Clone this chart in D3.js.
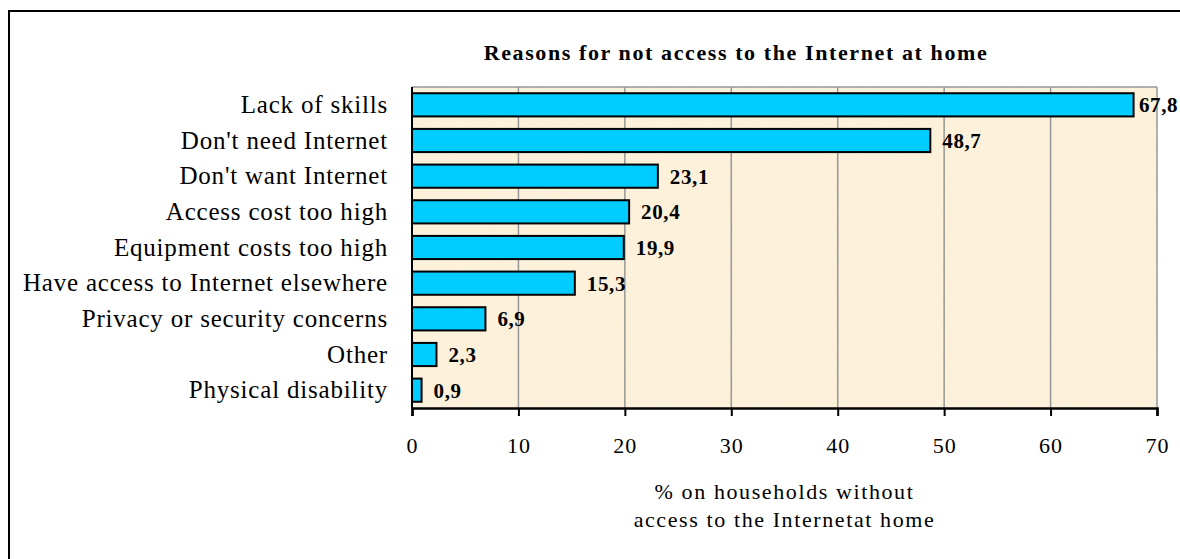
<!DOCTYPE html>
<html>
<head>
<meta charset="utf-8">
<script src="https://cdn.jsdelivr.net/npm/d3@7"></script>
<style>
  html, body { margin: 0; padding: 0; background: #ffffff; }
  svg { display: block; }
  text { font-family: "Liberation Serif", "Times New Roman", serif; fill: #000; }
</style>
</head>
<body>
<svg id="chart" width="1180" height="559"></svg>
<script>
// Reasons for not having Internet access at home (% of households without access)
const categories = [
  "Lack of skills",
  "Don't need Internet",
  "Don't want Internet",
  "Access cost too high",
  "Equipment costs too high",
  "Have access to Internet elsewhere",
  "Privacy or security concerns",
  "Other",
  "Physical disability"
];
const values = [67.8, 48.7, 23.1, 20.4, 19.9, 15.3, 6.9, 2.3, 0.9];
const xTicks = [0, 10, 20, 30, 40, 50, 60, 70];
const titleText = "Reasons for not access to the Internet at home";
const axisTitle = ["% on households without", "access to the Internetat home"];

const W = 1180, H = 559;
const plot = { left: 412, right: 1157, top: 87, bottom: 408 };
const serif = '"Liberation Serif", "Times New Roman", serif';

const svg = d3.select("#chart");

// Parchment texture for the plot background
const defs = svg.append("defs");
const f = defs.append("filter").attr("id", "parchment")
  .attr("x", 0).attr("y", 0).attr("width", 1).attr("height", 1);
f.append("feTurbulence").attr("type", "fractalNoise")
  .attr("baseFrequency", "0.04").attr("numOctaves", 3).attr("seed", 7).attr("result", "noise");
f.append("feColorMatrix").attr("in", "noise").attr("type", "matrix")
  .attr("values", "0 0 0 0 0.95  0 0 0 0 0.88  0 0 0 0 0.72  0 0 0 0.14 0")
  .attr("result", "tint");
f.append("feComposite").attr("in", "tint").attr("in2", "SourceGraphic").attr("operator", "in").attr("result", "t2");
f.append("feMerge").selectAll("feMergeNode").data(["SourceGraphic", "t2"]).join("feMergeNode").attr("in", d => d);

// Outer frame
svg.append("rect")
  .attr("x", 9).attr("y", 11).attr("width", 1220).attr("height", 600)
  .attr("fill", "#fff").attr("stroke", "#000").attr("stroke-width", 2);

const x = d3.scaleLinear().domain([0, 70]).range([plot.left, plot.right]);
const y = d3.scaleBand().domain(categories).range([plot.top, plot.bottom])
  .paddingInner(0.35).paddingOuter(0.175);

// Plot background
svg.append("rect")
  .attr("x", plot.left).attr("y", plot.top)
  .attr("width", plot.right - plot.left).attr("height", plot.bottom - plot.top)
  .attr("fill", "#fdf1da").attr("filter", "url(#parchment)");

// Vertical gridlines
svg.append("g").selectAll("line")
  .data(xTicks.filter(d => d > 0))
  .join("line")
  .attr("x1", d => x(d)).attr("x2", d => x(d))
  .attr("y1", plot.top).attr("y2", plot.bottom)
  .attr("stroke", "#979797").attr("stroke-width", 1.5);

// Top border of plot area
svg.append("line")
  .attr("x1", plot.left).attr("x2", plot.right)
  .attr("y1", plot.top).attr("y2", plot.top)
  .attr("stroke", "#979797").attr("stroke-width", 1.5);

// Bars
svg.append("g").selectAll("rect")
  .data(categories)
  .join("rect")
  .attr("x", x(0))
  .attr("y", d => y(d))
  .attr("width", (d, i) => x(values[i]) - x(0))
  .attr("height", y.bandwidth())
  .attr("fill", "#00ccff")
  .attr("stroke", "#000").attr("stroke-width", 2);

// Value labels
svg.append("g").selectAll("text")
  .data(categories)
  .join("text")
  .attr("x", (d, i) => Math.min(x(values[i]) + 12, W - 41))
  .attr("y", d => y(d) + y.bandwidth() / 2)
  .attr("dy", "0.35em")
  .style("font-size", "21px").style("font-weight", "bold").style("letter-spacing", "0.6px")
  .text((d, i) => d3.format(".1f")(values[i]).replace(".", ","));

// Category axis (left)
const yAxis = d3.axisLeft(y).tickSize(0).tickPadding(24);
const gy = svg.append("g").attr("transform", `translate(${plot.left},0)`).call(yAxis);
gy.select(".domain").remove();
gy.selectAll("text")
  .style("font-family", serif)
  .style("font-size", "25px").style("letter-spacing", "0.8px").attr("fill", "#000");
svg.append("line")
  .attr("x1", plot.left).attr("x2", plot.left)
  .attr("y1", plot.top).attr("y2", plot.bottom)
  .attr("stroke", "#000").attr("stroke-width", 2);

// Value axis (bottom)
const xAxis = d3.axisBottom(x).tickValues(xTicks).tickSize(8).tickPadding(0).tickFormat(d3.format("d"));
const gx = svg.append("g").attr("transform", `translate(0,${plot.bottom})`).call(xAxis);
gx.select(".domain").attr("stroke", "#000").attr("stroke-width", 2.5);
gx.selectAll(".tick line").attr("stroke", "#000").attr("stroke-width", 2);
gx.selectAll(".tick text")
  .attr("y", 45).attr("dy", 0)
  .style("font-family", serif)
  .style("font-size", "22px").style("letter-spacing", "1px").attr("fill", "#000");

// Axis title
svg.append("g").selectAll("text")
  .data(axisTitle)
  .join("text")
  .attr("x", (plot.left + plot.right) / 2)
  .attr("y", (d, i) => 499 + i * 28)
  .attr("text-anchor", "middle")
  .style("font-size", "22px").style("letter-spacing", "1.6px")
  .text(d => d);

// Chart title
svg.append("text")
  .attr("x", 736).attr("y", 60)
  .attr("text-anchor", "middle")
  .style("font-size", "22px").style("font-weight", "bold").style("letter-spacing", "1.6px")
  .text(titleText);
</script>
</body>
</html>
